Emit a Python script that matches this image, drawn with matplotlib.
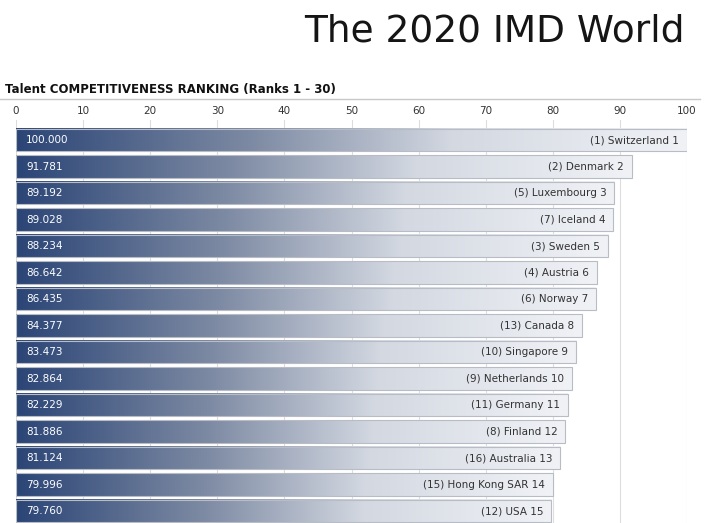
import numpy as np
import matplotlib.pyplot as plt
from matplotlib.colors import LinearSegmentedColormap

scores = [100.000, 91.781, 89.192, 89.028, 88.234, 86.642, 86.435, 84.377,
          83.473, 82.864, 82.229, 81.886, 81.124, 79.996, 79.760]
countries = ['Switzerland', 'Denmark', 'Luxembourg', 'Iceland', 'Sweden', 'Austria',
             'Norway', 'Canada', 'Singapore', 'Netherlands', 'Germany', 'Finland',
             'Australia', 'Hong Kong SAR', 'USA']
prev_ranks = [1, 2, 5, 7, 3, 4, 6, 13, 10, 9, 11, 8, 16, 15, 12]

W, H = 710, 523
fig = plt.figure(figsize=(W / 100, H / 100), dpi=100)
fig.text(685 / W, 1 - 32 / H, 'The 2020 IMD World', ha='right', va='center',
         fontsize=27, color='#151515', family='DejaVu Sans')
fig.text(5 / W, 1 - 90 / H, 'Talent COMPETITIVENESS RANKING (Ranks 1 - 30)',
         ha='left', va='center', fontsize=8.5, fontweight='bold', color='#111111')
fig.add_artist(plt.Line2D([0, 700 / W], [1 - 99 / H] * 2, color='#c8c8c8', lw=1))

ax = fig.add_axes([16 / W, 0, (687 - 16) / W, 1 - 120 / H])
cmap = LinearSegmentedColormap.from_list(
    'g', [(0, '#2b4576'), (0.35, '#7d8aa3'), (0.65, '#d3d8e1'), (1, '#f0f2f6')])
grad = np.linspace(0, 1, 256).reshape(1, -1)
h = 0.42
for i, (v, c, p) in enumerate(zip(scores, countries, prev_ranks)):
    ax.imshow(grad, cmap=cmap, aspect='auto', extent=(0, v, i + h, i - h), zorder=2)
    ax.add_patch(plt.Rectangle((0, i - h), v, 2 * h, fill=False, ec='#b8bcc4', lw=0.8, zorder=3))
    ax.text(1.5, i, f'{v:.3f}', color='white', va='center', ha='left', fontsize=7.5, zorder=4)
    ax.text(v - 1.2, i, f'({p}) {c} {i + 1}', color='#333333', va='center', ha='right',
            fontsize=7.5, zorder=4)

ax.set_xlim(0, 100)
ax.set_ylim(14.45, -0.755)
ax.set_xticks(range(0, 101, 10))
ax.xaxis.tick_top()
ax.tick_params(axis='x', length=0, labelsize=7.5, colors='#333333', pad=3)
ax.set_yticks([])
ax.grid(axis='x', color='#dddddd', lw=0.8, zorder=0)
for s in ax.spines.values():
    s.set_visible(False)

fig.savefig('out.png', dpi=100)
